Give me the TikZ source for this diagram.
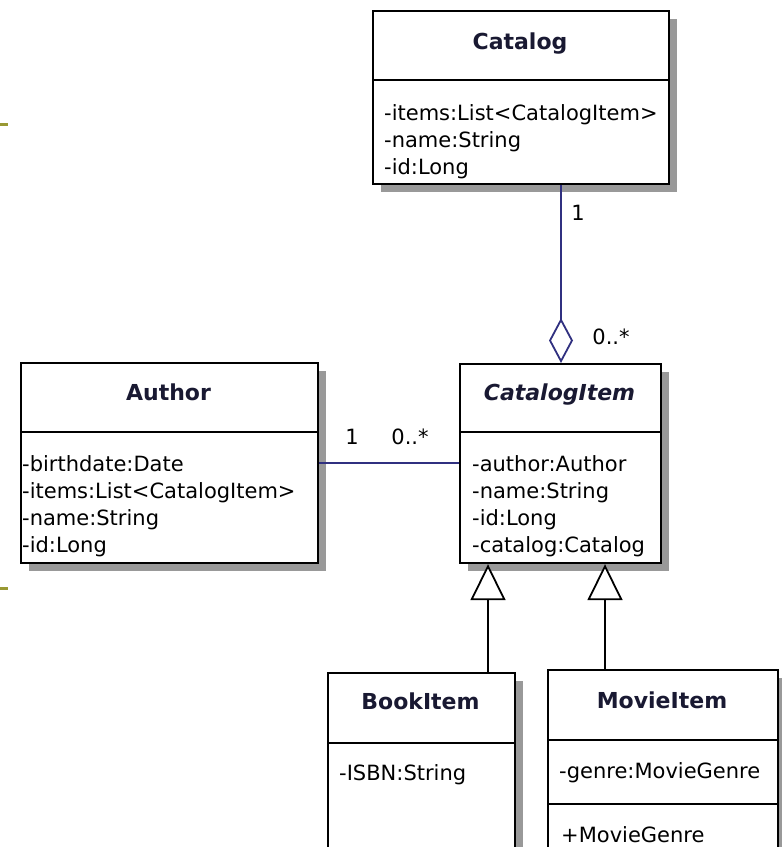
\documentclass[tikz,border=0pt]{standalone}
\usepackage{fontspec}
\setmainfont{DejaVu Sans}
\usetikzlibrary{arrows.meta,shadows}

\definecolor{assocblue}{RGB}{48,48,128}
\definecolor{titleink}{RGB}{25,25,50}
\definecolor{slideolive}{RGB}{153,153,51}
\newcommand{\umlfont}{\fontsize{21}{27}\selectfont}
\newcommand{\umltitlefont}{\fontsize{22}{27}\selectfont\bfseries}

\begin{document}
\begin{tikzpicture}[x=1pt,y=-1pt,font=\umlfont,
    classbox/.style={draw=black, line width=2.2pt, fill=white, inner sep=0pt, anchor=north west,
      drop shadow={shadow xshift=8pt, shadow yshift=-8pt, fill=black!40, opacity=1}},
    classname/.style={anchor=base, inner sep=0pt, text=titleink, font=\umltitlefont},
    attrs/.style={anchor=base west, inner sep=0pt, align=left},
    mult/.style={inner sep=0pt},
    divider/.style={line width=2.2pt},
    assoc/.style={draw=assocblue, line width=1.8pt},
    generalize/.style={draw=black, line width=1.8pt, -{Triangle[open, length=36pt, width=35pt, fill=white]}}]
  \useasboundingbox (0,0) rectangle (782,847);
  \clip (0,0) rectangle (782,847);

  % slide marks
  \draw[slideolive, line width=3pt] (0,124) -- (8,124);
  \draw[slideolive, line width=3pt] (0,588) -- (8,588);

  % Catalog
  \node[classbox, minimum width=296, minimum height=173] (catalog) at (372,10) {};
  \draw[divider] (372,80) -- (668,80);
  \node[classname] (catalog-name) at (520,49) {Catalog};
  \node[attrs] (catalog-attrs) at (384,174) {-items:List<CatalogItem>\\-name:String\\-id:Long};

  % Author
  \node[classbox, minimum width=297, minimum height=200] (author) at (20,362) {};
  \draw[divider] (20,432) -- (317,432);
  \node[classname] (author-name) at (168.5,400) {Author};
  \node[attrs] (author-attrs) at (22,552) {-birthdate:Date\\-items:List<CatalogItem>\\-name:String\\-id:Long};

  % CatalogItem
  \node[classbox, minimum width=201, minimum height=199] (catalogitem) at (459,363) {};
  \draw[divider] (459,432) -- (660,432);
  \node[classname, font=\umltitlefont\itshape] (catalogitem-name) at (559.5,400) {CatalogItem};
  \node[attrs] (catalogitem-attrs) at (472,552) {-author:Author\\-name:String\\-id:Long\\-catalog:Catalog};

  % BookItem
  \node[classbox, minimum width=187, minimum height=200] (bookitem) at (327,672) {};
  \draw[divider] (327,743) -- (514,743);
  \node[classname] (bookitem-name) at (420.5,709) {BookItem};
  \node[attrs] (bookitem-attrs) at (339,780) {-ISBN:String};

  % MovieItem
  \node[classbox, minimum width=230, minimum height=200] (movieitem) at (547,669) {};
  \draw[divider] (547,740) -- (777,740);
  \draw[divider] (547,804) -- (777,804);
  \node[classname] (movieitem-name) at (662,708) {MovieItem};
  \node[attrs] (movieitem-attrs) at (559,778) {-genre:MovieGenre};
  \node[attrs] (movieitem-ops) at (561,842) {+MovieGenre};

  % associations
  \draw[assoc] (author.east |- 0,463) -- (catalogitem.west |- 0,463);
  \node[mult] (author-one) at (352,437) {1};
  \node[mult] (author-many) at (410,437) {0..*};

  \draw[assoc, -{Diamond[open, length=45pt, width=24pt, fill=white]}]
    (catalog.south -| 561,0) -- (catalogitem.north -| 561,0);
  \node[mult] (catalog-one) at (578,213) {1};
  \node[mult] (catalog-many) at (611,337) {0..*};

  % inheritance
  \draw[generalize] (488,0 |- bookitem.north) -- (488,0 |- catalogitem.south);
  \draw[generalize] (605,0 |- movieitem.north) -- (605,0 |- catalogitem.south);
\end{tikzpicture}
\end{document}
